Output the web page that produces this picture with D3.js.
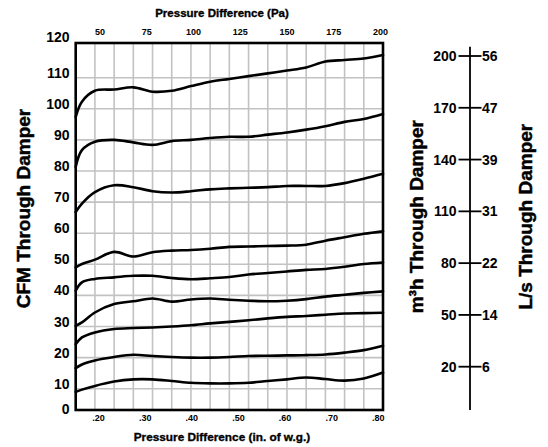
<!DOCTYPE html>
<html lang='en'>
<head>
	<meta charset='UTF-8'/>
	<title>CFM Through Damper</title>
	<script src='https://cdnjs.cloudflare.com/ajax/libs/d3/7.8.5/d3.min.js'></script>
	<style>
		body {margin: 0; background: #fff;}
		svg {display: block; font-family: 'Liberation Sans', Arial, sans-serif; font-weight: bold;}
		.heavy {stroke: #000; stroke-width: 0.45px;}
	</style>
</head>
<body>
	<div class='graph'></div>
	<script>
		// pressure difference, in. of w.g. (x of every curve point)
		const pressure = [0.16, 0.173, 0.20, 0.24, 0.28, 0.32, 0.36, 0.40, 0.44, 0.48, 0.52, 0.56, 0.60, 0.64, 0.68, 0.72, 0.76, 0.80];

		// CFM, top to bottom
		const curve1 = [97.4, 102.3, 105.8, 106.2, 106.9, 105.5, 105.8, 107.3, 108.7, 109.6, 110.5, 111.4, 112.3, 113.3, 115.2, 115.7, 116.2, 117.3];
		const curve2 = [81.3, 86.7, 89.4, 90.0, 89.2, 88.4, 89.6, 90.0, 90.6, 91.0, 91.0, 91.7, 92.4, 93.3, 94.4, 95.8, 96.7, 98.3];
		const curve3 = [66.8, 69.5, 73.2, 75.4, 74.8, 73.5, 73.1, 73.5, 74.1, 74.4, 74.6, 74.8, 75.2, 75.2, 75.2, 76.1, 77.5, 79.1];
		const curve4 = [49.0, 50.1, 51.5, 54.0, 52.5, 53.9, 54.4, 54.6, 55.0, 55.6, 55.7, 55.9, 56.0, 56.3, 57.6, 58.7, 59.8, 60.6];
		const curve5 = [41.5, 44.2, 45.3, 45.8, 46.3, 46.3, 45.6, 45.2, 45.5, 45.9, 46.7, 47.2, 47.7, 48.2, 48.5, 49.2, 50.1, 50.6];
		const curve6 = [30.2, 31.3, 34.5, 37.2, 38.1, 39.0, 38.0, 38.7, 39.0, 38.6, 38.3, 38.1, 38.3, 38.8, 39.6, 40.2, 40.8, 41.3];
		const curve7 = [24.3, 26.5, 28.1, 29.2, 29.5, 29.7, 30.0, 30.4, 31.0, 31.5, 32.0, 32.6, 33.1, 33.4, 33.8, 34.2, 34.3, 34.4];
		const curve8 = [16.6, 17.8, 19.1, 20.2, 20.9, 20.5, 20.2, 20.0, 20.0, 20.2, 20.5, 20.6, 20.7, 20.8, 21.0, 21.6, 22.4, 23.8];
		const curve9 = [9.0, 9.7, 10.9, 12.3, 13.0, 13.0, 12.5, 11.9, 11.7, 11.7, 11.9, 12.5, 13.0, 13.6, 13.1, 12.6, 13.3, 15.2];
		const curves = [curve1, curve2, curve3, curve4, curve5, curve6, curve7, curve8, curve9];

		// axis ticks
		const cfmTicks = [0, 10, 20, 30, 40, 50, 60, 70, 80, 90, 100, 110, 120];
		const inchTicks = [0.2, 0.3, 0.4, 0.5, 0.6, 0.7, 0.8];
		const inchLabels = ['.20', '.30', '.40', '.50', '.60', '.70', '.80'];
		const paTicks = [50, 75, 100, 125, 150, 175, 200];
		const m3hTicks = [20, 50, 80, 110, 140, 170, 200];
		const lsTicks = [6, 14, 22, 31, 39, 47, 56];

		var width = 548;
		var height = 447;
		var box = {left: 75.7, right: 383, top: 43, bottom: 410};

		var svg = d3.select('.graph')
			.append('svg')
			.attr('width', width)
			.attr('height', height);

		const X_SCALE = d3.scaleLinear().domain([0.16, 0.80]).range([box.left, box.right]);
		const Y_SCALE = d3.scaleLinear().domain([10, 110]).range([388.7, 77.7]);
		// printed tick labels sit a little off the grid in the original
		const X_LABEL = d3.scaleLinear().domain([0.2, 0.8]).range([98.5, 378.3]);
		const PA_LABEL = d3.scaleLinear().domain([50, 200]).range([100, 380.5]);
		const M3H_SCALE = d3.scaleLinear().domain([20, 200]).range([366.7, 56]);

		// grid
		svg.append('g')
			.selectAll('line')
			.data(d3.range(1, 16).map(i => 0.16 + i * 0.04))
			.enter()
			.append('line')
			.attr('x1', d => X_SCALE(d))
			.attr('x2', d => X_SCALE(d))
			.attr('y1', box.top)
			.attr('y2', box.bottom)
			.style('stroke', '#c2c2c2')
			.style('stroke-width', 1.6);
		svg.append('g')
			.selectAll('line')
			.data(cfmTicks.filter(d => d > 0 && d < 120))
			.enter()
			.append('line')
			.attr('x1', box.left)
			.attr('x2', box.right)
			.attr('y1', d => Y_SCALE(d))
			.attr('y2', d => Y_SCALE(d))
			.style('stroke', '#c2c2c2')
			.style('stroke-width', 1.6);

		// curves
		var line = d3.line()
			.x((d, i) => X_SCALE(pressure[i]))
			.y(d => Y_SCALE(d))
			.curve(d3.curveCatmullRom.alpha(0.5));
		svg.append('g')
			.selectAll('path')
			.data(curves)
			.enter()
			.append('path')
			.attr('d', line)
			.style('fill', 'none')
			.style('stroke', '#000')
			.style('stroke-width', 2.6)
			.style('stroke-linecap', 'round');

		// frame
		svg.append('rect')
			.attr('x', box.left)
			.attr('y', box.top)
			.attr('width', box.right - box.left)
			.attr('height', box.bottom - box.top)
			.style('fill', 'none')
			.style('stroke', '#000')
			.style('stroke-width', 2.6);

		// left labels
		svg.append('g')
			.selectAll('text')
			.data(cfmTicks)
			.enter()
			.append('text')
			.attr('x', 69.5)
			.attr('y', d => (d === 120 ? box.top - 6 : d === 0 ? box.bottom - 1 : Y_SCALE(d) - 5) + 5)
			.attr('text-anchor', 'end')
			.style('font-size', '14px')
			.text(d => d);

		// bottom and top labels
		svg.append('g')
			.selectAll('text')
			.data(inchTicks)
			.enter()
			.append('text')
			.attr('x', d => X_LABEL(d))
			.attr('y', 421.3)
			.attr('text-anchor', 'middle')
			.style('font-size', '9px')
			.text((d, i) => inchLabels[i]);
		svg.append('g')
			.selectAll('text')
			.data(paTicks)
			.enter()
			.append('text')
			.attr('x', d => PA_LABEL(d))
			.attr('y', 35)
			.attr('text-anchor', 'middle')
			.style('font-size', '9px')
			.text(d => d);

		svg.append('text')
			.text('Pressure Difference (Pa)')
			.attr('class', 'heavy')
			.attr('x', 222)
			.attr('y', 17)
			.attr('text-anchor', 'middle')
			.style('font-size', '11.5px')
			.style('stroke-width', 0.35);
		svg.append('text')
			.text('Pressure Difference (in. of w.g.)')
			.attr('class', 'heavy')
			.attr('x', 222)
			.attr('y', 441)
			.attr('text-anchor', 'middle')
			.style('font-size', '11.8px')
			.style('stroke-width', 0.35);

		svg.append('text')
			.text('CFM Through Damper')
			.attr('class', 'heavy')
			.attr('transform', 'translate(30, 208.5) rotate(-90)')
			.attr('text-anchor', 'middle')
			.style('font-size', '19px');

		// metric scale on the right
		svg.append('line')
			.attr('x1', 470)
			.attr('x2', 470)
			.attr('y1', 46.7)
			.attr('y2', 410)
			.style('stroke', '#000')
			.style('stroke-width', 1.8);
		var metric = svg.append('g')
			.selectAll('g')
			.data(m3hTicks)
			.enter()
			.append('g')
			.attr('transform', d => 'translate(0, ' + M3H_SCALE(d) + ')');
		metric.append('line')
			.attr('x1', 458.5)
			.attr('x2', 481.5)
			.style('stroke', '#000')
			.style('stroke-width', 1.8);
		metric.append('text')
			.attr('x', 456.5)
			.attr('y', 5)
			.attr('text-anchor', 'end')
			.style('font-size', '14px')
			.text(d => d);
		metric.append('text')
			.attr('x', 482)
			.attr('y', 5)
			.style('font-size', '14px')
			.text((d, i) => lsTicks[i]);

		svg.append('text')
			.text('m³h Through Damper')
			.attr('class', 'heavy')
			.attr('transform', 'translate(423, 216.7) rotate(-90)')
			.attr('text-anchor', 'middle')
			.style('font-size', '19px');
		svg.append('text')
			.text('L/s Through Damper')
			.attr('class', 'heavy')
			.attr('transform', 'translate(532, 216.7) rotate(-90)')
			.attr('text-anchor', 'middle')
			.style('font-size', '19px');
	</script>
</body>
</html>
